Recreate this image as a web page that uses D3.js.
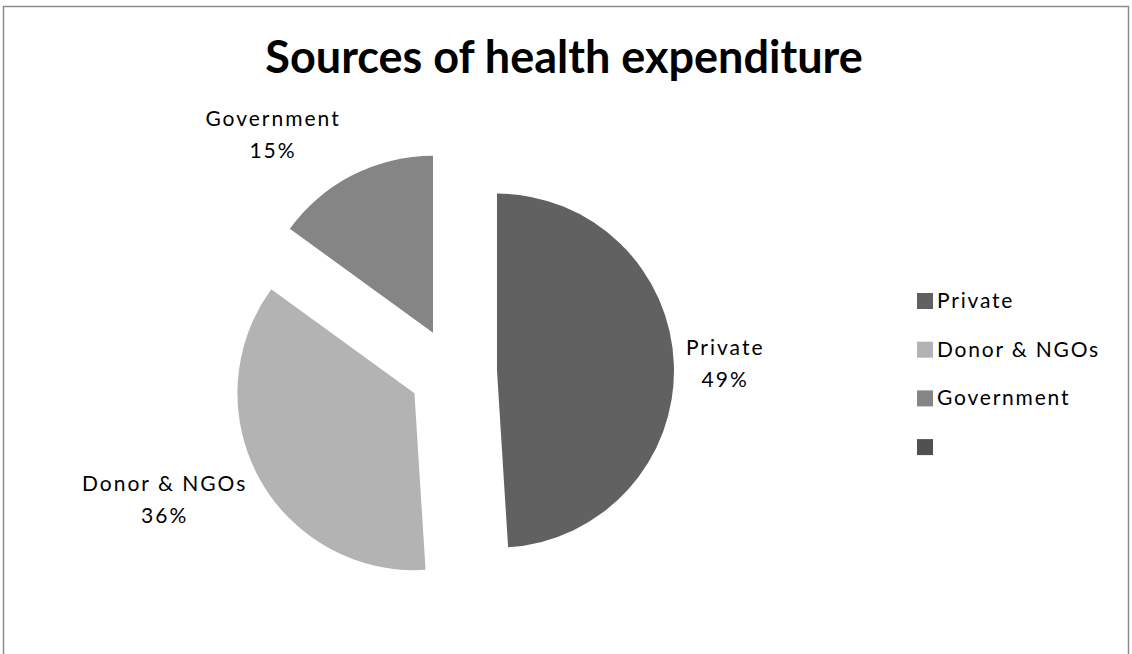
<!DOCTYPE html>
<html>
<head>
<meta charset="utf-8">
<script src="https://cdn.jsdelivr.net/npm/d3@7"></script>
<style>
  body { margin: 0; background: #fff; }
  svg { display: block; }
  text { font-family: Lato, "Open Sans", sans-serif; fill: #000; }
</style>
</head>
<body>
<svg id="chart" width="1132" height="654"></svg>
<script>
var categories = ["Private", "Donor & NGOs", "Government"];
var values = [49, 36, 15];
var sliceColors = ["#606160", "#b2b3b2", "#848584"];
var legendLabels = ["Private", "Donor & NGOs", "Government", ""];
var legendColors = ["#606160", "#b2b3b2", "#848584", "#505050"];
var title = "Sources of health expenditure";

var svg = d3.select("#chart");
var cx = 453, cy = 372, radius = 177, explode = 44;

// outer frame
svg.append("rect")
  .attr("x", 3.5).attr("y", 6.5)
  .attr("width", 1125).attr("height", 700)
  .attr("fill", "#fff")
  .attr("stroke", "#8c8c8c")
  .attr("stroke-width", 1.5);

svg.append("text")
  .attr("x", 564).attr("y", 73)
  .attr("text-anchor", "middle")
  .style("font-size", "45px")
  .style("font-weight", "bold")
  .text(title);

var color = d3.scaleOrdinal().domain(categories).range(sliceColors);

var data = categories.map(function(c, i) { return { name: c, value: values[i] }; });
var pie = d3.pie().sort(null).value(function(d) { return d.value; });
var arc = d3.arc().innerRadius(0).outerRadius(radius);
var arcs = pie(data);

var g = svg.append("g").attr("transform", "translate(" + cx + "," + cy + ")");

function mid(d) { return (d.startAngle + d.endAngle) / 2; }

g.selectAll("path")
  .data(arcs)
  .enter()
  .append("path")
  .attr("d", arc)
  .attr("fill", function(d) { return color(d.data.name); })
  .attr("transform", function(d) {
    var a = mid(d);
    return "translate(" + (explode * Math.sin(a)) + "," + (-explode * Math.cos(a)) + ")";
  });

// data labels, Excel "best fit" style
var total = d3.sum(values);
var lineGap = 32, pad = 12;
arcs.forEach(function(d) {
  var a = mid(d);
  var ax = (explode + radius) * Math.sin(a);
  var ay = -(explode + radius) * Math.cos(a);
  var t = g.append("text")
    .attr("text-anchor", "middle")
    .style("font-size", "21px")
    .style("letter-spacing", "2px");
  t.append("tspan").attr("x", 0).attr("dy", 0).text(d.data.name);
  t.append("tspan").attr("x", 0).attr("dy", lineGap)
    .text(Math.round(d.data.value / total * 100) + "%");
  var w = t.node().getBBox().width, h = 50;
  var lx = ax + Math.sign(Math.sin(a)) * (w / 2 + pad);
  var ly = ay - Math.cos(a) * (h / 2 + 20);
  t.attr("transform", "translate(" + lx + "," + (ly - 9) + ")");
});

// legend
var legend = svg.append("g").attr("transform", "translate(917,293)");
var row = legend.selectAll("g")
  .data(legendLabels)
  .enter()
  .append("g")
  .attr("transform", function(d, i) { return "translate(0," + (i * 48.7) + ")"; });
row.append("rect")
  .attr("width", 16).attr("height", 16)
  .attr("fill", function(d, i) { return legendColors[i]; });
row.append("text")
  .attr("x", 20).attr("y", 15)
  .style("font-size", "21px")
  .style("letter-spacing", "1.8px")
  .text(function(d) { return d; });
</script>
</body>
</html>
